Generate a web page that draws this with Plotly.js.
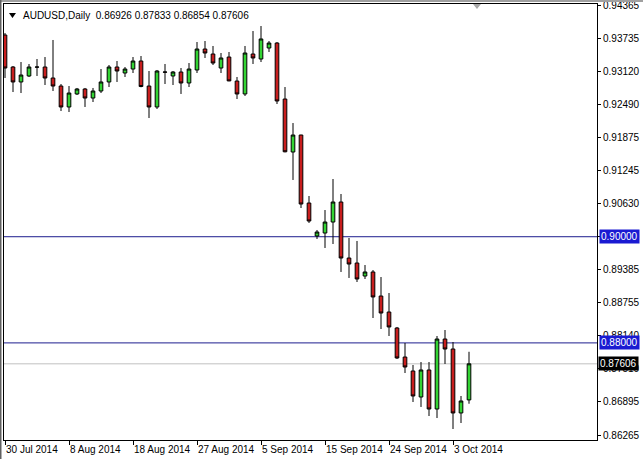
<!DOCTYPE html>
<html>
<head>
<meta charset="utf-8">
<script src="https://cdn.plot.ly/plotly-3.0.1.min.js"></script>
<style>
html,body{margin:0;padding:0;background:#fff;}
#chart{width:643px;height:459px;}
</style>
</head>
<body>
<div id="chart"></div>
<script>
const dates = ["30 Jul 2014","31 Jul 2014","1 Aug 2014","3 Aug 2014","4 Aug 2014","5 Aug 2014","6 Aug 2014","7 Aug 2014","8 Aug 2014","10 Aug 2014","11 Aug 2014","12 Aug 2014","13 Aug 2014","14 Aug 2014","15 Aug 2014","17 Aug 2014","18 Aug 2014","19 Aug 2014","20 Aug 2014","21 Aug 2014","22 Aug 2014","24 Aug 2014","25 Aug 2014","26 Aug 2014","27 Aug 2014","28 Aug 2014","29 Aug 2014","31 Aug 2014","1 Sep 2014","2 Sep 2014","3 Sep 2014","4 Sep 2014","5 Sep 2014","7 Sep 2014","8 Sep 2014","9 Sep 2014","10 Sep 2014","11 Sep 2014","12 Sep 2014","14 Sep 2014","15 Sep 2014","16 Sep 2014","17 Sep 2014","18 Sep 2014","19 Sep 2014","21 Sep 2014","22 Sep 2014","23 Sep 2014","24 Sep 2014","25 Sep 2014","26 Sep 2014","28 Sep 2014","29 Sep 2014","30 Sep 2014","1 Oct 2014","2 Oct 2014","3 Oct 2014","5 Oct 2014","6 Oct 2014"];

const openP = [0.93800,0.93197,0.92915,0.93028,0.93197,0.93197,0.92990,0.92839,0.92444,0.92689,0.92783,0.92613,0.92745,0.92915,0.93197,0.93084,0.93159,0.93310,0.92839,0.92444,0.93103,0.93028,0.93103,0.92896,0.93141,0.93536,0.93442,0.93178,0.93385,0.92933,0.92689,0.93442,0.93348,0.93555,0.93649,0.92594,0.91596,0.91916,0.90635,0.90014,0.90070,0.90277,0.90654,0.89599,0.89505,0.89260,0.89336,0.88883,0.88582,0.88281,0.87734,0.87471,0.86981,0.87490,0.86755,0.88073,0.87885,0.86680,0.86926];

const highP = [0.93838,0.93216,0.93291,0.93254,0.93348,0.93385,0.93706,0.92877,0.92839,0.92802,0.92802,0.92802,0.93159,0.93235,0.93310,0.93197,0.93385,0.93404,0.93122,0.93141,0.93254,0.93122,0.93178,0.93272,0.93668,0.93687,0.93593,0.93461,0.93480,0.93009,0.93593,0.93875,0.93969,0.93687,0.93668,0.92820,0.92142,0.91920,0.90767,0.90127,0.90503,0.91087,0.90805,0.89976,0.89920,0.89467,0.89373,0.89241,0.88940,0.88300,0.87998,0.87584,0.87640,0.87640,0.88130,0.88243,0.88017,0.87000,0.87833];

const lowP = [0.92990,0.92726,0.92707,0.93009,0.93028,0.92858,0.92745,0.92368,0.92349,0.92670,0.92444,0.92538,0.92707,0.92820,0.92915,0.93009,0.93084,0.92815,0.92236,0.92406,0.92877,0.92858,0.92689,0.92820,0.93084,0.93367,0.93235,0.93084,0.92930,0.92594,0.92651,0.93254,0.93291,0.93480,0.92500,0.91590,0.91069,0.90541,0.90259,0.89957,0.89788,0.89863,0.89336,0.89223,0.89147,0.89204,0.88469,0.88262,0.88130,0.87697,0.87433,0.86887,0.86793,0.86623,0.86585,0.87603,0.86378,0.86491,0.86854];

const closeP = [0.93178,0.92915,0.93046,0.93197,0.93195,0.92990,0.92839,0.92444,0.92707,0.92783,0.92613,0.92745,0.92915,0.93197,0.93122,0.93159,0.93310,0.92830,0.92444,0.93122,0.93100,0.93103,0.92896,0.93159,0.93536,0.93461,0.93272,0.93367,0.92935,0.92689,0.93461,0.93367,0.93725,0.93649,0.92557,0.91600,0.91916,0.90616,0.90296,0.90089,0.90277,0.90654,0.89599,0.89486,0.89204,0.89336,0.88865,0.88563,0.88300,0.87716,0.87546,0.87000,0.87490,0.86755,0.88073,0.87885,0.86680,0.86906,0.87606];

const xTickLabels = ["30 Jul 2014","8 Aug 2014","18 Aug 2014","27 Aug 2014","5 Sep 2014","15 Sep 2014","24 Sep 2014","3 Oct 2014"];
const yTicks = [0.94365,0.93735,0.93120,0.92490,0.91875,0.91245,0.90630,0.90000,0.89385,0.88755,0.88140,0.87510,0.86895,0.86265];
const levelLines = [0.90000, 0.88000];
const lastPrice = 0.87606;
const symbolTitle = "AUDUSD,Daily";
const headerValues = ["0.86926","0.87833","0.86854","0.87606"];

const FONT = "Liberation Sans, Arial, sans-serif";
const lineBlue = "#1c1c8e";
const boxBlue = "#1a1ad2";

const trace = {
  type: "candlestick",
  x: dates, open: openP, high: highP, low: lowP, close: closeP,
  increasing: {line: {color: "#000000", width: 1}, fillcolor: "#33d433"},
  decreasing: {line: {color: "#000000", width: 1}, fillcolor: "#c81e1e"},
  whiskerwidth: 0,
  hoverinfo: "skip",
  showlegend: false
};

const shapes = [];
levelLines.forEach(v => shapes.push({type:"line", xref:"paper", x0:0, x1:1, yref:"y", y0:v, y1:v, line:{color:lineBlue, width:1}, layer:"below"}));
shapes.push({type:"line", xref:"paper", x0:0, x1:1, yref:"y", y0:lastPrice, y1:lastPrice, line:{color:"#c0c0c0", width:1}, layer:"below"});
// outer window frame (top and left edges)
shapes.push({type:"line", xref:"paper", yref:"paper", x0:-0.01, x1:1.08, y0:1.0069, y1:1.0069, line:{color:"#a0a0a0", width:2}});
shapes.push({type:"line", xref:"paper", yref:"paper", x0:-0.0059, x1:-0.0059, y0:-0.05, y1:1.01, line:{color:"#606060", width:2}});
// header dropdown triangle and chart-shift marker
shapes.push({type:"path", xref:"paper", yref:"paper", path:"M 0.0084 0.9793 L 0.0202 0.9793 L 0.0143 0.9679 Z", fillcolor:"#000", line:{width:0}});
shapes.push({type:"path", xref:"paper", yref:"paper", path:"M 0.7909 1.0 L 0.8044 1.0 L 0.7976 0.9885 Z", fillcolor:"#a8a8a8", line:{width:0}});

const annotations = [
  {xref:"paper", yref:"paper", x:0.0287, y:0.9736, xanchor:"left", yanchor:"middle", showarrow:false,
   text: symbolTitle + "\u00a0\u00a0" + headerValues.join("\u00a0"), font:{family:FONT, size:10, color:"#000"}},
  {xref:"paper", yref:"y", x:1, xshift:2, y:levelLines[0], xanchor:"left", yanchor:"middle", showarrow:false,
   text: levelLines[0].toFixed(5), bgcolor:boxBlue, borderpad:1, font:{family:FONT, size:10, color:"#fff"}},
  {xref:"paper", yref:"y", x:1, xshift:2, y:levelLines[1], xanchor:"left", yanchor:"middle", showarrow:false,
   text: levelLines[1].toFixed(5), bgcolor:boxBlue, borderpad:1, font:{family:FONT, size:10, color:"#fff"}},
  {xref:"paper", yref:"y", x:1, xshift:1, y:lastPrice, xanchor:"left", yanchor:"middle", showarrow:false,
   text: lastPrice.toFixed(5), bgcolor:"#000", borderpad:1, font:{family:FONT, size:10, color:"#fff"}}
];

const layout = {
  width: 643, height: 459,
  margin: {l:4, r:46, t:4, b:19, pad:0},
  paper_bgcolor: "#ffffff", plot_bgcolor: "#ffffff",
  showlegend: false,
  boxgap: 0.35,
  font: {family: FONT, size: 10, color: "#000"},
  xaxis: {
    type: "category",
    range: [-0.125, 74],
    rangeslider: {visible: false},
    tickmode: "array", tickvals: xTickLabels, ticktext: xTickLabels,
    ticks: "outside", ticklen: 4, tickcolor: "#000", tickwidth: 1,
    ticklabelposition: "outside right",
    ticklabeloverflow: "allow",
    tickangle: 0,
    automargin: false,
    showgrid: false, zeroline: false,
    showline: true, linecolor: "#000", linewidth: 1, mirror: true,
    tickfont: {family: FONT, size: 10, color: "#000"},
    fixedrange: true
  },
  yaxis: {
    side: "right",
    range: [0.86171, 0.94384],
    tickmode: "array", tickvals: yTicks, ticktext: yTicks.map(v => v.toFixed(5)),
    ticks: "outside", ticklen: 3, tickcolor: "#000", tickwidth: 1,
    ticklabeloverflow: "allow",
    automargin: false,
    showgrid: false, zeroline: false,
    showline: true, linecolor: "#000", linewidth: 1, mirror: true,
    tickfont: {family: FONT, size: 10, color: "#000"},
    fixedrange: true
  },
  shapes: shapes,
  annotations: annotations
};

Plotly.newPlot("chart", [trace], layout, {displayModeBar: false, staticPlot: true});
</script>
</body>
</html>
